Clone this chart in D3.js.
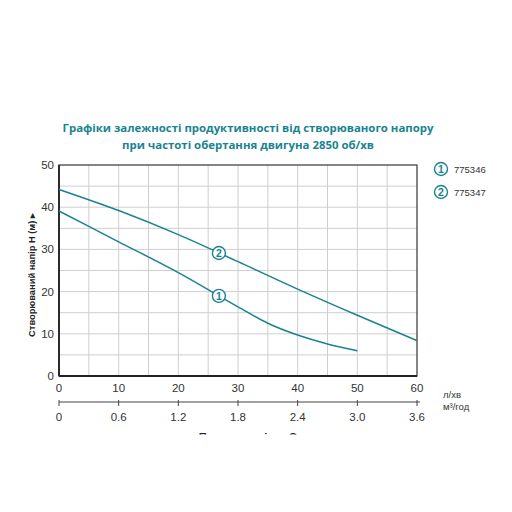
<!DOCTYPE html>
<html><head><meta charset="utf-8">
<script src="https://cdn.jsdelivr.net/npm/d3@7"></script>
<style>body{margin:0;background:#fff}</style>
</head><body>
<svg id="c" width="512" height="512"></svg>
<script>
const titleLines = ["Графіки залежності продуктивності від створюваного напору", "при частоті обертання двигуна 2850 об/хв"];
const xTicks = [0,10,20,30,40,50,60];
const x2Ticks = ["0","0.6","1.2","1.8","2.4","3.0","3.6"];
const yTicks = [0,10,20,30,40,50];
const flow1 = [0,10,20,30,35,40,45,50];
const head1 = [39.1,31.8,24.5,16.4,12.5,9.7,7.6,6.0];
const flow2 = [0,10,20,30,40,50,60];
const head2 = [44.2,39.2,33.5,27.1,20.6,14.4,8.4];
const seriesNames = ["775346","775347"];
const markerFlow = [26.8,26.8];

const teal = "#1a8392";
const svg = d3.select("#c");
const L=59,R=417,T=165,B=376;
const x = d3.scaleLinear().domain([0,60]).range([L,R]);
const y = d3.scaleLinear().domain([0,50]).range([B,T]);

svg.selectAll("text.title").data(titleLines).join("text")
  .attr("x",248).attr("y",(d,i)=>132+i*16.5).attr("text-anchor","middle")
  .attr("font-family","Open Sans").attr("font-weight","bold").attr("font-size",11.4)
  .attr("fill",teal).text(d=>d);

// grid
const g = svg.append("g");
g.selectAll("line.vx").data(d3.range(5,60,5)).join("line")
  .attr("x1",d=>x(d)).attr("x2",d=>x(d)).attr("y1",T).attr("y2",B)
  .attr("stroke","#cfcfcf").attr("stroke-width",1);
g.selectAll("line.hy").data(d3.range(5,50,5)).join("line")
  .attr("y1",d=>y(d)).attr("y2",d=>y(d)).attr("x1",L).attr("x2",R)
  .attr("stroke","#cfcfcf").attr("stroke-width",1);
g.append("rect").attr("x",L).attr("y",T).attr("width",R-L).attr("height",B-T)
  .attr("fill","none").attr("stroke","#444").attr("stroke-width",1.3);
g.append("line").attr("x1",L).attr("x2",L).attr("y1",T).attr("y2",B).attr("stroke","#222").attr("stroke-width",1.8);
g.append("line").attr("x1",L).attr("x2",R).attr("y1",B).attr("y2",B).attr("stroke","#222").attr("stroke-width",1.8);

// y ticks
svg.selectAll("text.yt").data(yTicks).join("text")
  .attr("x",54).attr("y",d=>y(d)+4).attr("text-anchor","end")
  .attr("font-family","Liberation Sans").attr("font-size",11.5).attr("fill","#333").text(d=>d);
// x ticks
svg.selectAll("text.xt").data(xTicks).join("text")
  .attr("x",d=>x(d)).attr("y",392).attr("text-anchor","middle")
  .attr("font-family","Liberation Sans").attr("font-size",11.5).attr("fill","#333").text(d=>d);

// second axis
const x2 = d3.scaleLinear().domain([0,3.6]).range([L,R]);
const ax2 = svg.append("g").attr("transform","translate(0,402)");
ax2.append("line").attr("x1",L).attr("x2",R+3).attr("y1",0).attr("y2",0).attr("stroke","#444").attr("stroke-width",1);
ax2.selectAll("line.t").data(x2Ticks).join("line")
  .attr("x1",d=>x2(+d)).attr("x2",d=>x2(+d)).attr("y1",-2).attr("y2",4).attr("stroke","#444");
ax2.selectAll("text").data(x2Ticks).join("text")
  .attr("x",d=>x2(+d)).attr("y",19).attr("text-anchor","middle")
  .attr("font-family","Liberation Sans").attr("font-size",11.5).attr("fill","#333").text(d=>d);
svg.append("text").attr("x",443).attr("y",398).attr("font-family","Liberation Sans").attr("font-size",9.5).attr("fill","#333").text("л/хв");
svg.append("text").attr("x",443).attr("y",410).attr("font-family","Liberation Sans").attr("font-size",9.5).attr("fill","#333").text("м³/год");

// y label
svg.append("text").attr("transform","translate(35,275) rotate(-90)").attr("text-anchor","middle")
  .attr("font-family","Liberation Sans").attr("font-weight","bold").attr("font-size",9.3).attr("fill","#222")
  .text("Створюваний напір H (м) ▸");

// clipped x label
svg.append("clipPath").attr("id","clipb").append("rect").attr("x",0).attr("y",420).attr("width",512).attr("height",14.5);
svg.append("text").attr("clip-path","url(#clipb)").attr("x",248).attr("y",441).attr("text-anchor","middle")
  .attr("font-family","Liberation Sans").attr("font-weight","bold").attr("font-size",11).attr("fill","#222")
  .text("Продуктивність Q");

// curves
const line = d3.line().x(d=>x(d[0])).y(d=>y(d[1])).curve(d3.curveMonotoneX);
const data = [d3.zip(flow1,head1), d3.zip(flow2,head2)];
svg.selectAll("path.c").data(data).join("path")
  .attr("d",line).attr("fill","none").attr("stroke",teal).attr("stroke-width",1.5);

// markers on curves
function headAt(fl,hd,f){ for(let i=1;i<fl.length;i++){ if(f<=fl[i]){const t=(f-fl[i-1])/(fl[i]-fl[i-1]);return hd[i-1]+t*(hd[i]-hd[i-1]);} } return hd[hd.length-1]; }
const mk = [[markerFlow[0],headAt(flow1,head1,markerFlow[0])],[markerFlow[1],headAt(flow2,head2,markerFlow[1])]];
const mg = svg.selectAll("g.m").data(mk).join("g").attr("transform",d=>`translate(${x(d[0])},${y(d[1])})`);
mg.append("circle").attr("r",6.5).attr("fill","#fff").attr("stroke",teal).attr("stroke-width",1.4);
mg.append("text").attr("y",4).attr("text-anchor","middle").attr("font-family","Liberation Sans").attr("font-weight","bold")
  .attr("font-size",10.5).attr("fill",teal).text((d,i)=>i+1);

// legend
const lg = svg.selectAll("g.l").data(seriesNames).join("g").attr("transform",(d,i)=>`translate(441,${169+i*23})`);
lg.append("circle").attr("r",6.5).attr("fill","#fff").attr("stroke",teal).attr("stroke-width",1.4);
lg.append("text").attr("y",4).attr("text-anchor","middle").attr("font-family","Liberation Sans").attr("font-weight","bold")
  .attr("font-size",10.5).attr("fill",teal).text((d,i)=>i+1);
lg.append("text").attr("x",13).attr("y",3.5).attr("font-family","Liberation Sans").attr("font-size",9.5).attr("fill","#333").text(d=>d);
</script>
</body></html>
